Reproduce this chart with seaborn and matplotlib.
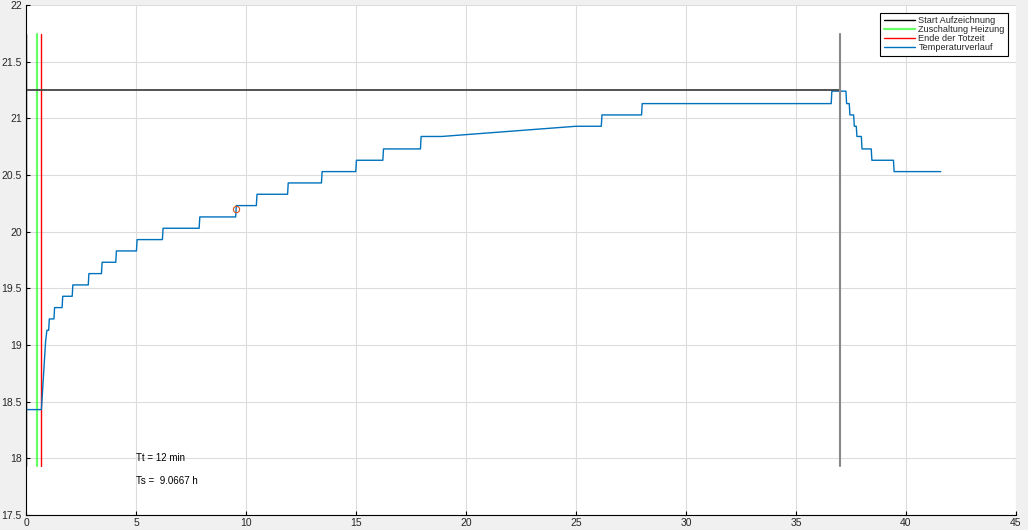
import numpy as np
import pandas as pd
import matplotlib
matplotlib.use("Agg")
import matplotlib.pyplot as plt
from matplotlib.ticker import FuncFormatter
import seaborn as sns

# Temperaturverlauf (Zeit in min, Temperatur in Grad C)
zeit = [0, 0.70, 0.89, 0.95, 1.03, 1.06, 1.27, 1.30, 1.64, 1.67, 2.10, 2.13,
        2.83, 2.86, 3.43, 3.46, 4.08, 4.11, 5.02, 5.05, 6.20, 6.23, 7.87, 7.90,
        9.53, 9.56, 10.47, 10.50, 11.89, 11.92, 13.43, 13.46, 14.99, 15.02,
        16.22, 16.25, 17.93, 17.96, 18.90, 25.00, 26.15, 26.18, 27.98, 28.01,
        36.60, 36.63, 37.27, 37.30, 37.42, 37.45, 37.62, 37.65, 37.74, 37.77,
        37.97, 38.00, 38.42, 38.45, 39.43, 39.46, 41.58]
temperatur = [18.43, 18.43, 19.03, 19.13, 19.13, 19.23, 19.23, 19.33, 19.33, 19.43, 19.43, 19.53,
              19.53, 19.63, 19.63, 19.73, 19.73, 19.83, 19.83, 19.93, 19.93, 20.03, 20.03, 20.13,
              20.13, 20.23, 20.23, 20.33, 20.33, 20.43, 20.43, 20.53, 20.53, 20.63,
              20.63, 20.73, 20.73, 20.84, 20.84, 20.93, 20.93, 21.03, 21.03, 21.13,
              21.13, 21.24, 21.24, 21.13, 21.13, 21.03, 21.03, 20.93, 20.93, 20.84,
              20.84, 20.73, 20.73, 20.63, 20.63, 20.53, 20.53]

# Markierungen
t_start = 0.0
t_heizung = 0.5
t_totzeit = 0.7
t_ende = 37.0
y_unten = 17.93
y_oben = 21.74
y_max_linie = 21.25
punkt_t, punkt_y = 9.55, 20.2

legend_labels = ["Start Aufzeichnung", "Zuschaltung Heizung",
                 "Ende der Totzeit", "Temperaturverlauf"]
text_tt = "Tt = 12 min"
text_ts = "Ts =  9.0667 h"

df = pd.DataFrame({"zeit": zeit, "temperatur": temperatur})

sns.set_theme(style="whitegrid")
plt.rcParams["font.family"] = ["Liberation Sans", "DejaVu Sans"]

fig = plt.figure(figsize=(10.28, 5.30), dpi=100, facecolor="#f0f0f0")
ax = fig.add_axes([26 / 1028, 1 - 515 / 530, 990 / 1028, 510 / 530])
ax.set_facecolor("white")

ax.plot([t_start, t_start], [y_unten, y_oben], color="black", lw=1.0, label=legend_labels[0])
ax.plot([t_heizung, t_heizung], [y_unten, y_oben], color="#00ff00", lw=1.6, alpha=0.6, label=legend_labels[1])
ax.plot([t_totzeit, t_totzeit], [y_unten, y_oben], color="#ff0000", lw=1.0, label=legend_labels[2])
sns.lineplot(data=df, x="zeit", y="temperatur", sort=False, estimator=None,
             color="#0072BD", lw=1.0, ax=ax, label=legend_labels[3])
ax.plot([t_start, t_ende], [y_max_linie, y_max_linie], color="#454545", lw=1.3)
ax.plot([t_ende, t_ende], [y_unten, y_oben], color="#888888", lw=1.5)
ax.plot([punkt_t], [punkt_y], marker="o", ms=4.5, mfc="none", mec="#D95319", mew=0.8, ls="none")

ax.text(5, 18.0, text_tt, fontsize=7, va="center", ha="left", color="black")
ax.text(5, 17.8, text_ts, fontsize=7, va="center", ha="left", color="black")

ax.set_xlim(0, 45)
ax.set_ylim(17.5, 22)
ax.set_xticks(np.arange(0, 46, 5))
ax.set_yticks(np.arange(17.5, 22.01, 0.5))
ax.xaxis.set_major_formatter(FuncFormatter(lambda v, p: f"{v:g}"))
ax.yaxis.set_major_formatter(FuncFormatter(lambda v, p: f"{v:g}"))
ax.set_xlabel("")
ax.set_ylabel("")

ax.grid(True, color="#dcdcdc", lw=0.8)
for side in ["top", "right"]:
    ax.spines[side].set_visible(False)
for side in ["left", "bottom"]:
    ax.spines[side].set_color("black")
    ax.spines[side].set_linewidth(0.8)
ax.tick_params(axis="both", direction="in", length=3, width=0.8, color="black",
               labelsize=7.5, labelcolor="#262626", left=True, bottom=True)
ax.tick_params(axis="y", pad=3)
ax.tick_params(axis="x", pad=2)

handles, labels = ax.get_legend_handles_labels()
leg = ax.legend(handles[:4], labels[:4], loc="upper right", bbox_to_anchor=(0.992, 0.984),
                borderaxespad=0, fontsize=6.6, handlelength=3.4, handletextpad=0.4,
                labelspacing=0.0, borderpad=0.35, frameon=True, fancybox=False)
leg.get_frame().set_edgecolor("black")
leg.get_frame().set_linewidth(0.8)
leg.get_frame().set_facecolor("white")
leg.get_frame().set_alpha(1)

fig.savefig("out.png", dpi=100, facecolor=fig.get_facecolor())
